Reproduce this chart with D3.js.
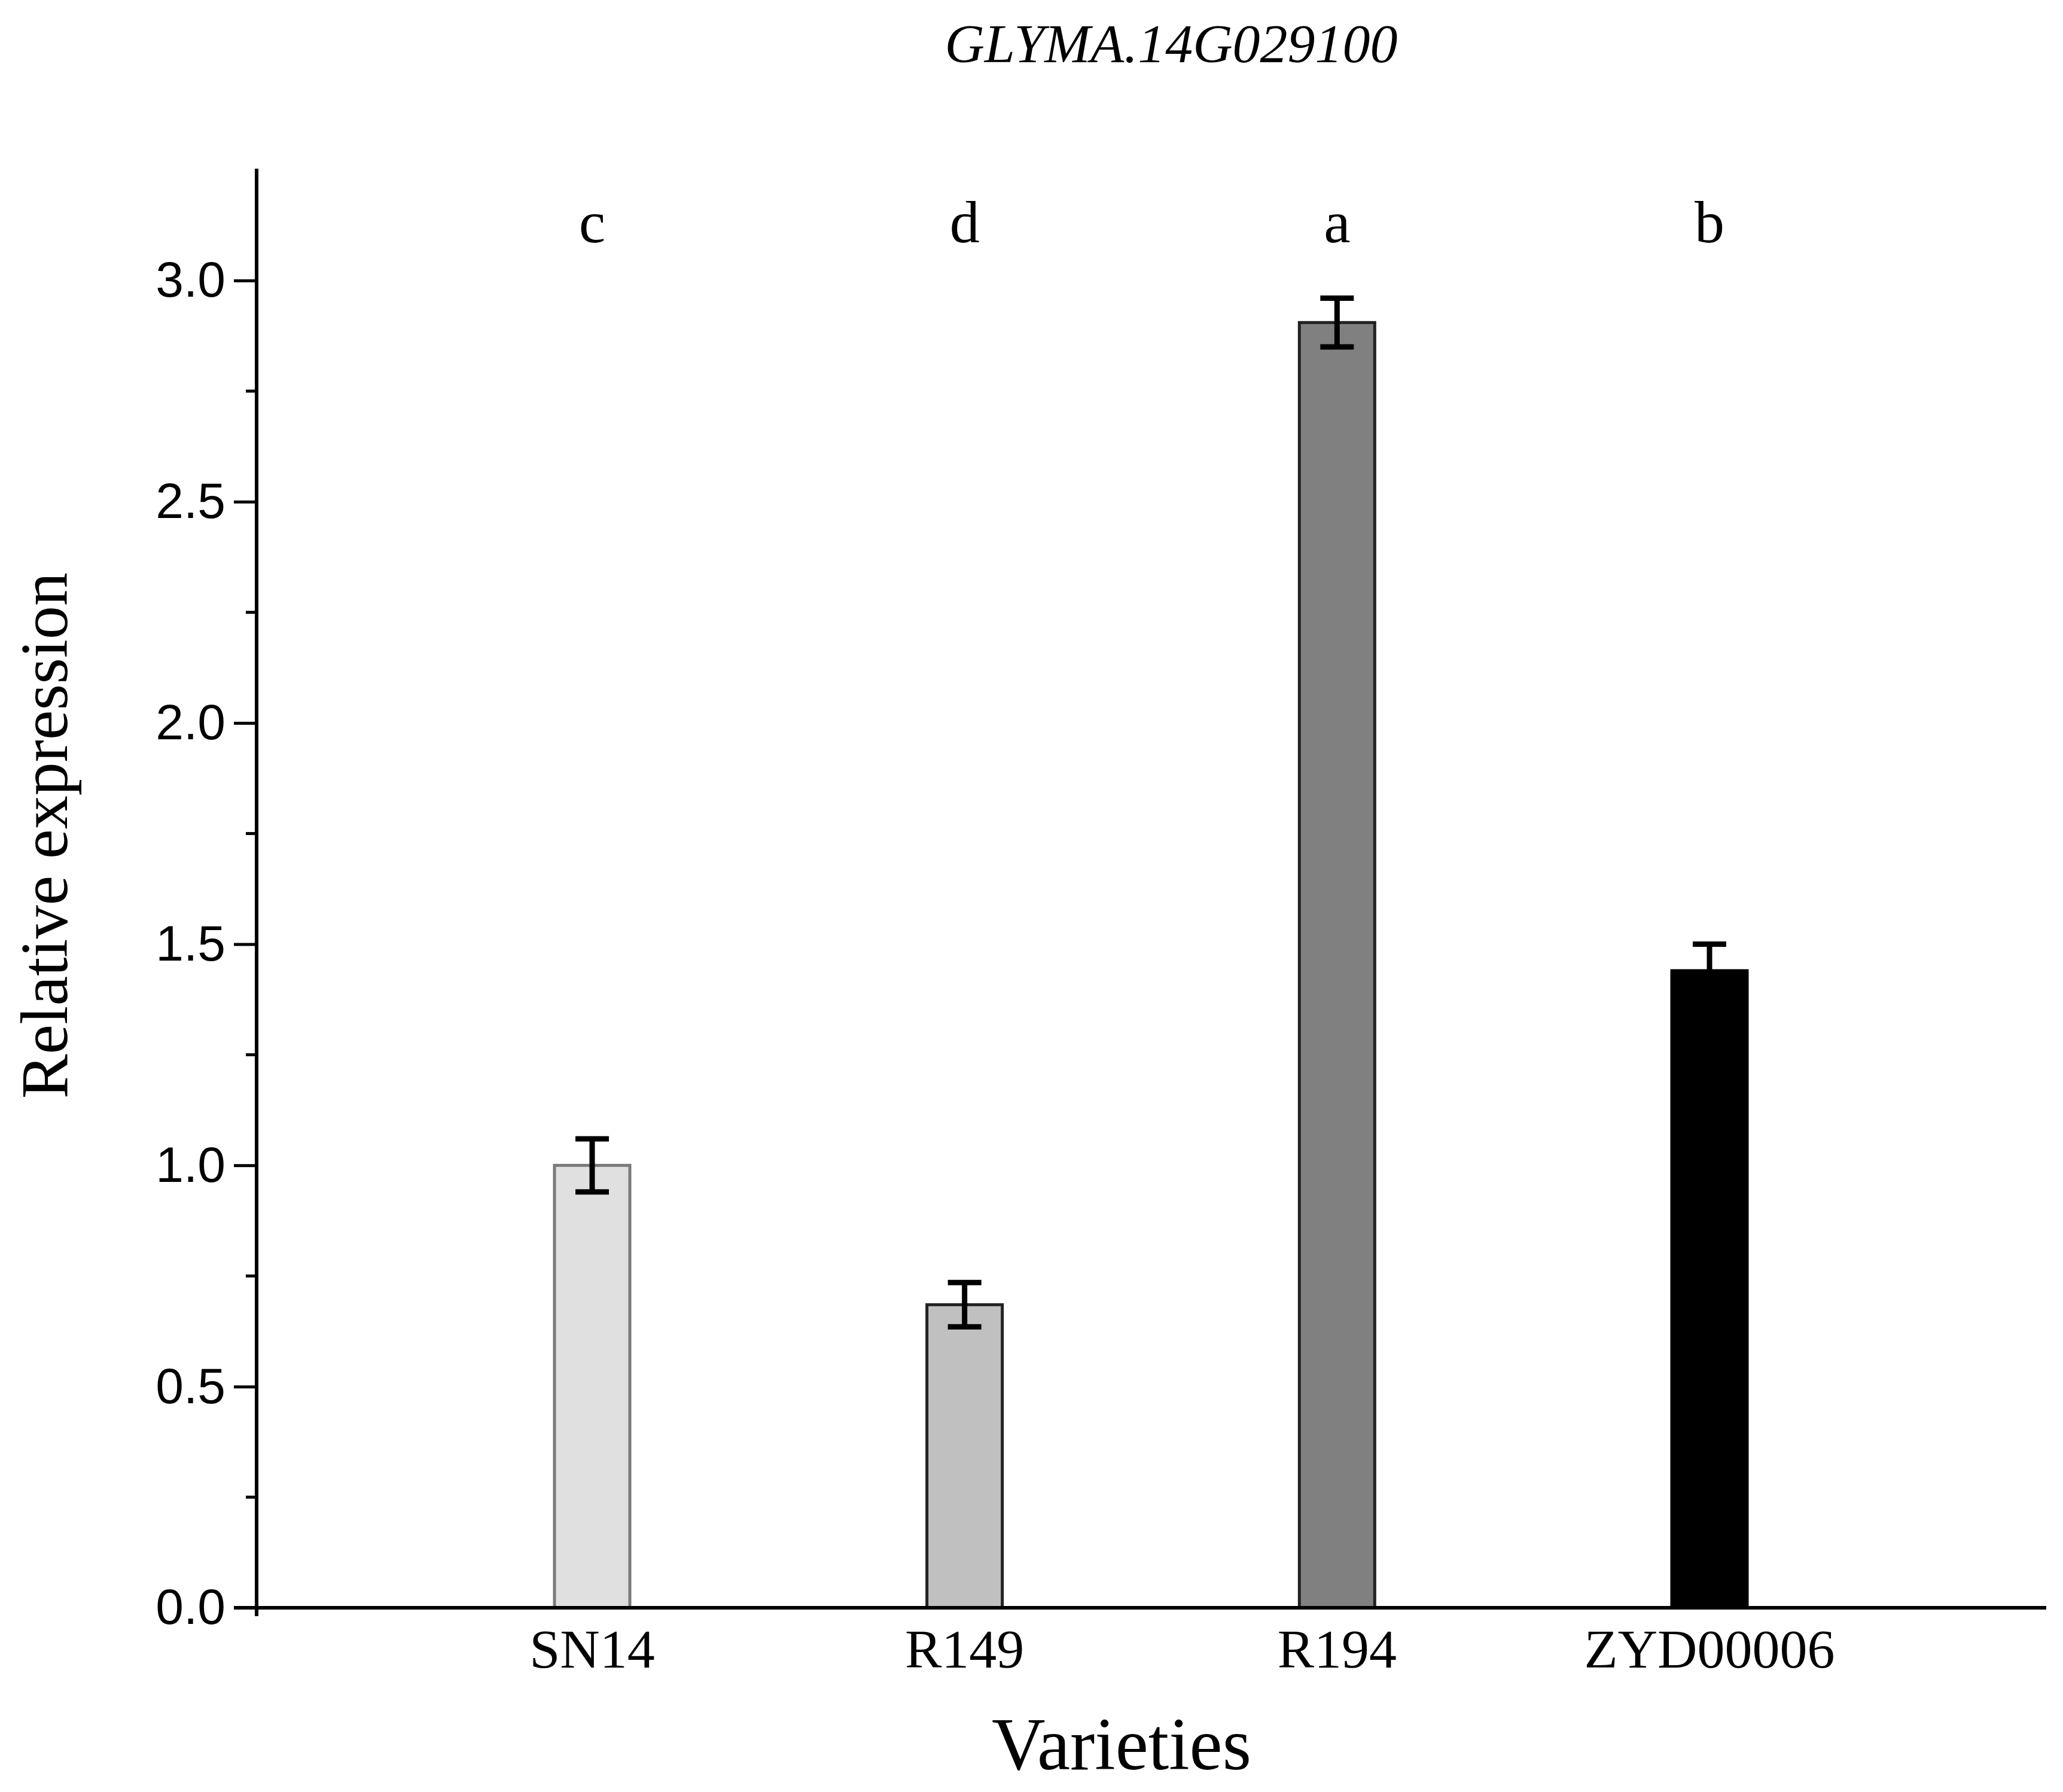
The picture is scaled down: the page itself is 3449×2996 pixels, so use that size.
<!DOCTYPE html>
<html><head><meta charset="utf-8">
<script src="https://cdn.jsdelivr.net/npm/d3@7"></script>
<style>body{margin:0;background:#fff}</style>
</head><body><div id="chart"></div>
<script>
// datos
const varieties = ["SN14", "R149", "R194", "ZYD00006"];
const expression = [1.0, 0.685, 2.905, 1.44];
const errors = [0.06, 0.05, 0.055, 0.06];
const letters = ["c", "d", "a", "b"];
const fills = ["#e0e0e0", "#c0c0c0", "#808080", "#000000"];
const strokes = ["#7a7a7a", "#222", "#222", "#000"];
const yTicks = [0, 0.5, 1.0, 1.5, 2.0, 2.5, 3.0];

const W = 3449, H = 2996;
const axLeft = 429, axRight = 3421, axTop = 282, axBottom = 2688;

const svg = d3.select("#chart").append("svg").attr("width", W).attr("height", H);

const x = d3.scalePoint().domain(varieties).range([990, 2858]);
const y = d3.scaleLinear().domain([0, 3]).range([axBottom, 469]);
const barW = 126;

// barras
svg.selectAll(".bar").data(varieties).enter().append("rect")
  .attr("x", d => x(d) - barW / 2)
  .attr("y", (d, i) => y(expression[i]))
  .attr("width", barW)
  .attr("height", (d, i) => axBottom - y(expression[i]))
  .attr("fill", (d, i) => fills[i])
  .attr("stroke", (d, i) => strokes[i])
  .attr("stroke-width", 5);

// barras de error
const eg = svg.append("g").attr("stroke", "#000").attr("stroke-width", 9);
varieties.forEach((d, i) => {
  const cx = x(d), hi = y(expression[i] + errors[i]), lo = y(expression[i] - errors[i]);
  eg.append("line").attr("x1", cx).attr("x2", cx).attr("y1", hi).attr("y2", lo);
  eg.append("line").attr("x1", cx - 28).attr("x2", cx + 28).attr("y1", hi).attr("y2", hi);
  eg.append("line").attr("x1", cx - 28).attr("x2", cx + 28).attr("y1", lo).attr("y2", lo);
});

// ejes
const yAxis = svg.append("g").attr("transform", `translate(${axLeft},0)`)
  .call(d3.axisLeft(y).tickValues(yTicks).tickFormat(d3.format(".1f")).tickSize(38).tickPadding(14));
yAxis.select(".domain").remove();
yAxis.selectAll("line").attr("stroke-width", 5);
yAxis.selectAll("text").attr("font-family", "Liberation Sans, Arial").attr("font-size", 84).attr("fill", "#000");
// ticks menores
const minor = d3.range(0.25, 3.25, 0.5);
svg.selectAll(".minor").data(minor).enter().append("line")
  .attr("x1", axLeft - 18).attr("x2", axLeft).attr("y1", d => y(d)).attr("y2", d => y(d))
  .attr("stroke", "#000").attr("stroke-width", 5);

svg.append("line").attr("x1", axLeft).attr("x2", axLeft).attr("y1", axTop).attr("y2", axBottom + 14)
  .attr("stroke", "#000").attr("stroke-width", 6);
svg.append("line").attr("x1", axLeft - 38).attr("x2", axRight).attr("y1", axBottom).attr("y2", axBottom)
  .attr("stroke", "#000").attr("stroke-width", 6);

// etiquetas de categorías
svg.selectAll(".cat").data(varieties).enter().append("text")
  .attr("x", d => x(d)).attr("y", axBottom + 100)
  .attr("text-anchor", "middle").attr("font-family", "Liberation Serif, Times New Roman")
  .attr("font-size", 92).text(d => d);

// letras de significancia
svg.selectAll(".let").data(varieties).enter().append("text")
  .attr("x", d => x(d)).attr("y", 405)
  .attr("text-anchor", "middle").attr("font-family", "Liberation Serif, Times New Roman")
  .attr("font-size", 100).text((d, i) => letters[i]);

// títulos
svg.append("text").attr("x", 1958).attr("y", 104).attr("text-anchor", "middle")
  .attr("font-family", "Liberation Serif, Times New Roman").attr("font-style", "italic")
  .attr("font-size", 92).text("GLYMA.14G029100");
svg.append("text").attr("x", 1875).attr("y", 2958).attr("text-anchor", "middle")
  .attr("font-family", "Liberation Serif, Times New Roman").attr("font-size", 124).text("Varieties");
svg.append("text").attr("transform", "translate(112,1397) rotate(-90)").attr("text-anchor", "middle")
  .attr("font-family", "Liberation Serif, Times New Roman").attr("font-size", 112).text("Relative expression");
</script></body></html>
